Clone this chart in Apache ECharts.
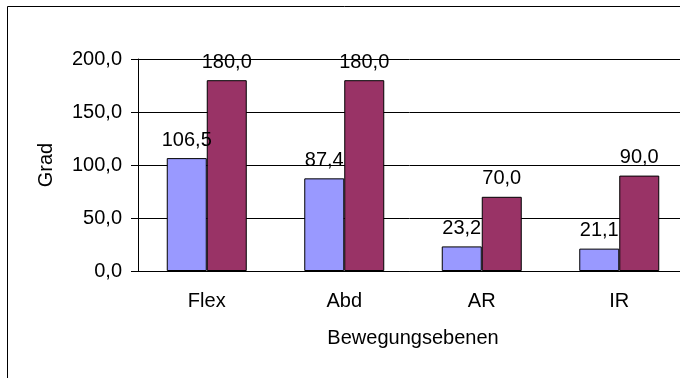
<!DOCTYPE html>
<html>
<head>
<meta charset="utf-8">
<script src="https://cdn.jsdelivr.net/npm/echarts@6/dist/echarts.min.js"></script>
<style>
  html, body { margin: 0; padding: 0; background: #fff; }
  #chart { width: 680px; height: 378px; }
</style>
</head>
<body>
<div id="chart"></div>
<script>
// Movement planes and range-of-motion values (degrees)
const categories = ['Flex', 'Abd', 'AR', 'IR'];
const measured = [106.5, 87.4, 23.2, 21.1];
const normal = [180.0, 180.0, 70.0, 90.0];
const yTicks = { min: 0, max: 200, step: 50 };

const fmt = v => Number(v).toFixed(1).replace('.', ',');
const font = 'Liberation Sans, Arial, sans-serif';
const fontSize = 20;

const chart = echarts.init(document.getElementById('chart'), null, { renderer: 'canvas' });

const barLabel = {
  show: true,
  position: 'top',
  distance: 8,
  color: '#000',
  fontSize: fontSize,
  fontFamily: font,
  formatter: p => fmt(p.value)
};

chart.setOption({
  animation: false,
  backgroundColor: '#fff',
  graphic: [{
    type: 'rect',
    shape: { x: 7.5, y: 6.5, width: 800, height: 500 },
    style: { fill: 'none', stroke: '#000', lineWidth: 1 },
    silent: true,
    z: -1
  }],
  // the plot runs past the right edge of the canvas, so it is not clamped to it
  grid: { left: 138, top: 59, width: 550, height: 212, containLabel: false, outerBoundsMode: 'none' },
  xAxis: {
    type: 'category',
    data: categories,
    name: 'Bewegungsebenen',
    nameLocation: 'middle',
    nameGap: 57,
    nameTextStyle: { color: '#000', fontSize: fontSize, fontFamily: font },
    axisLine: { show: true, lineStyle: { color: '#000', width: 1 } },
    axisTick: { show: false },
    axisLabel: { color: '#000', fontSize: fontSize, fontFamily: font, margin: 20 },
    splitLine: { show: false }
  },
  yAxis: {
    type: 'value',
    min: yTicks.min,
    max: yTicks.max,
    interval: yTicks.step,
    name: 'Grad',
    nameLocation: 'middle',
    nameGap: 82,
    nameTextStyle: { color: '#000', fontSize: fontSize, fontFamily: font },
    axisLine: { show: true, lineStyle: { color: '#000', width: 1 } },
    axisTick: { show: true, length: 7, lineStyle: { color: '#000' } },
    axisLabel: { color: '#000', fontSize: fontSize, fontFamily: font, margin: 16, formatter: v => fmt(v) },
    splitLine: { show: true, lineStyle: { color: '#000', width: 1 } }
  },
  series: [
    {
      type: 'bar',
      data: measured,
      barWidth: 40,
      barGap: '0%',
      itemStyle: { color: '#9999FF', borderColor: '#000', borderWidth: 1 },
      label: barLabel
    },
    {
      type: 'bar',
      data: normal,
      barWidth: 40,
      barGap: '0%',
      itemStyle: { color: '#993366', borderColor: '#000', borderWidth: 1 },
      label: barLabel
    }
  ]
});
</script>
</body>
</html>
